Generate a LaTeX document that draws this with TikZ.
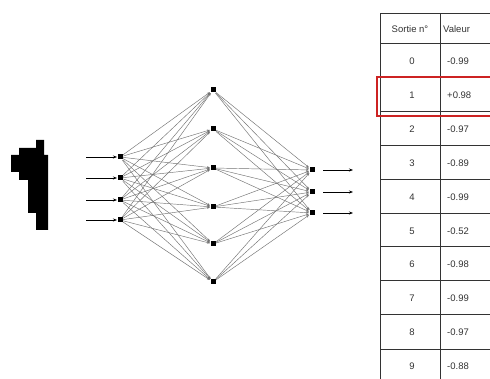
\documentclass[tikz,border=0pt]{standalone}
\usepackage{fontspec}
\setmainfont{Liberation Sans}
\usetikzlibrary{arrows.meta}
\definecolor{boxred}{RGB}{205,35,35}
\begin{document}
\begin{tikzpicture}[x=1pt,y=-1pt,
  neuron/.style={draw=none,fill=black,minimum size=5pt,inner sep=0pt,outer sep=0.5pt},
  link/.style={draw=black!55,line width=0.45pt,-{Stealth[length=3pt,width=2.2pt]}},
  ioarrow/.style={draw=black,line width=0.9pt,-{Stealth[length=4pt,width=3pt]}},
  cell/.style={font=\fontsize{9.5}{10}\selectfont,text=black!80,inner sep=0pt},
  rule/.style={draw=black!80,line width=1pt}]
\clip (0,0) rectangle (490,379);
\fill[white] (0,0) rectangle (490,379);
% digit image
\fill[black] (36,140) -- (44,140) -- (44,155) -- (48,155) -- (48,230) -- (36,230) -- (36,213)
  -- (28,213) -- (28,180) -- (19,180) -- (19,172) -- (11,172) -- (11,155) -- (19,155)
  -- (19,148) -- (36,148) -- cycle;
% input nodes
\foreach \i/\y in {1/157,2/178,3/200,4/220}{
  \node[neuron] (i\i) at (120,\y) {};
  \coordinate (ia\i) at (86,\y);
}
% hidden nodes
\foreach \j/\y in {1/90,2/129,3/168,4/207,5/244,6/282}{
  \node[neuron] (h\j) at (213,\y) {};
}
% output nodes
\foreach \k/\y in {1/170,2/192,3/213}{
  \node[neuron] (o\k) at (312,\y) {};
  \coordinate (os\k) at (323,\y);
  \coordinate (oa\k) at (353,\y);
}
\foreach \i in {1,...,4}{\draw[ioarrow] (ia\i) -- (i\i);}
\foreach \k in {1,...,3}{\draw[ioarrow] (os\k) -- (oa\k);}
\foreach \i in {1,...,4}{\foreach \j in {1,...,6}{\draw[link] (i\i) -- (h\j);}}
\foreach \j in {1,...,6}{\foreach \k in {1,...,3}{\draw[link] (h\j) -- (o\k);}}
% table
\foreach \yy in {44,78,112,146,180,214,247,281,315,349}{\draw[rule] (380,\yy) -- (495,\yy);}
\draw[rule] (380,14) -- (495,14);
\draw[rule,line width=1.5pt] (380.5,14) -- (380.5,390);
\draw[rule] (440,14) -- (440,390);
\node[cell] (hs) at (410,29) {Sortie n°};
\node[cell,anchor=west] (hv) at (443,29) {Valeur};
\foreach \n/\v/\yy in {0/-0.99/61,1/+0.98/95,2/-0.97/129,3/-0.89/163,4/-0.99/197,5/-0.52/231,6/-0.98/264,7/-0.99/298,8/-0.97/332,9/-0.88/366}{
  \node[cell] (n\n) at (412,\yy) {\n};
  \node[cell,anchor=west] (v\n) at (447,\yy) {\v};
}
\draw[draw=boxred,line width=2.4pt] (377,77) rectangle (500,116);
\end{tikzpicture}
\end{document}
